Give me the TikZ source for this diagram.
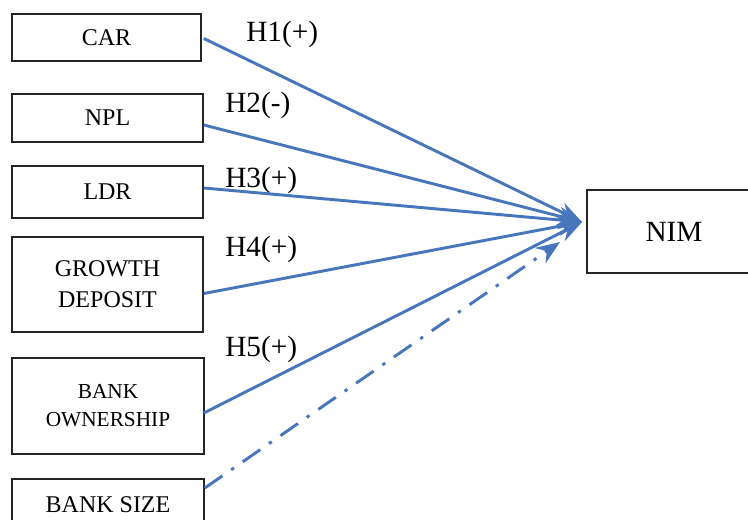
\documentclass[tikz,border=0pt]{standalone}
\usepackage{fontspec}
\setmainfont{Liberation Serif}
\usetikzlibrary{arrows.meta,calc}
\begin{document}
\begin{tikzpicture}[x=0.75pt,y=-0.75pt,
  varbox/.style={draw=black!85,line width=1.3pt,fill=white,rectangle,align=center,
     font=\fontsize{18}{23}\selectfont,inner sep=0pt},
  hlabel/.style={anchor=base west,inner sep=0pt,font=\fontsize{22}{26}\selectfont},
  link/.style={draw={rgb,255:red,72;green,118;blue,188},line width=2.2pt,
     -{Stealth[length=18pt,width=14pt,inset=6pt]}},
  dlink/.style={link,dash pattern=on 16pt off 8pt on 2.5pt off 8pt}]
\useasboundingbox (0,0) rectangle (748,520);
\clip (0,0) rectangle (748,520);
\fill[white] (0,0) rectangle (748,520);
\node[varbox,minimum width=141.75pt,minimum height=35.25pt] (car) at (106.5,37.5) {CAR};
\node[varbox,minimum width=143.25pt,minimum height=36pt] (npl) at (107.5,118) {NPL};
\node[varbox,minimum width=143.25pt,minimum height=39pt] (ldr) at (107.5,192) {LDR};
\node[varbox,minimum width=143.25pt,minimum height=71.25pt] (gd) at (107.5,284.5) {GROWTH\\DEPOSIT};
\node[varbox,minimum width=144pt,minimum height=72pt,font=\fontsize{16}{21}\selectfont] (bo) at (108,406) {BANK\\OWNERSHIP};
\node[varbox,minimum width=144pt,anchor=north,inner ysep=13pt] (bs) at (108,478) {BANK SIZE};
\node[varbox,minimum width=130pt,minimum height=62.25pt,anchor=west,font=\fontsize{22}{26}\selectfont,text width=130pt,align=left,inner xsep=0pt] (nim) at (586,231.5) {\hspace*{44pt}NIM};
\coordinate (tip) at (582,222);
\coordinate (dtip) at (560,242);
\node[hlabel] (h1) at (246,42) {H1(+)};
\node[hlabel] (h2) at (225,113) {H2(-)};
\node[hlabel] (h3) at (225,187) {H3(+)};
\node[hlabel] (h4) at (225,256) {H4(+)};
\node[hlabel] (h5) at (225,356) {H5(+)};
\draw[link] ($(car.east)+(2,1)$) -- (tip);
\draw[link] ($(npl.east)+(0,7)$) -- (tip);
\draw[link] ($(ldr.east)+(0,-4)$) -- (tip);
\draw[link] ($(gd.east)+(0,9)$) -- (tip);
\draw[link] ($(bo.east)+(-1,7)$) -- (tip);
\draw[dlink] ($(bs.north east)+(0,10)$) -- (dtip);
\end{tikzpicture}
\end{document}
